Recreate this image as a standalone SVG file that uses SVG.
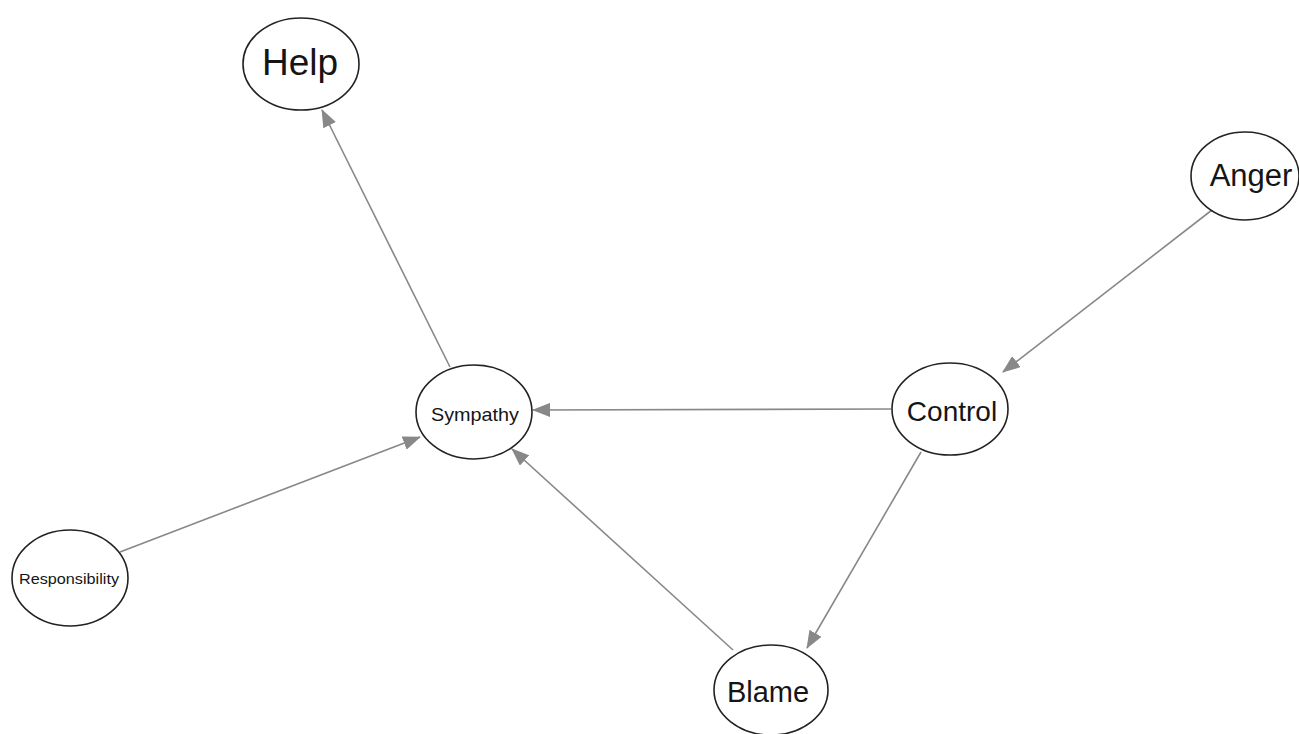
<svg xmlns="http://www.w3.org/2000/svg" width="1299" height="734" viewBox="0 0 1299 734">
<style>
.node ellipse{fill:#fff;stroke:#222;stroke-width:1.6}
.node text{font-family:"Liberation Sans",Arial,sans-serif;fill:#151515;text-anchor:middle}
.edge{stroke:#888;stroke-width:1.6;fill:none;marker-end:url(#arr)}
</style>
<defs>
<marker id="arr" markerUnits="userSpaceOnUse" markerWidth="18" markerHeight="14" refX="17" refY="7" orient="auto">
<path d="M0,0 L18,7 L0,14 Z" fill="#888"/>
</marker>
</defs>
<rect width="1299" height="734" fill="#fff"/>
<g id="connectors">
<line class="edge" x1="450" y1="367" x2="322" y2="110"/>
<line class="edge" x1="1212" y1="210" x2="1003" y2="372"/>
<line class="edge" x1="891" y1="409" x2="533" y2="410"/>
<line class="edge" x1="921" y1="452" x2="807" y2="648"/>
<line class="edge" x1="733" y1="650" x2="512" y2="449"/>
<line class="edge" x1="120" y1="552" x2="420" y2="437"/>
</g>
<g id="help" class="node"><ellipse cx="301" cy="64" rx="58" ry="46"/><text x="300" y="75" font-size="37">Help</text></g>
<g id="anger" class="node"><ellipse cx="1245" cy="176" rx="54" ry="44"/><text x="1251" y="186" font-size="31">Anger</text></g>
<g id="sympathy" class="node"><ellipse cx="474" cy="412" rx="58" ry="47"/><text x="475" y="421" font-size="19" textLength="88" lengthAdjust="spacingAndGlyphs">Sympathy</text></g>
<g id="control" class="node"><ellipse cx="950" cy="409" rx="58" ry="46"/><text x="952" y="421" font-size="28">Control</text></g>
<g id="responsibility" class="node"><ellipse cx="70" cy="578" rx="58" ry="48"/><text x="69" y="584" font-size="15" textLength="100" lengthAdjust="spacingAndGlyphs">Responsibility</text></g>
<g id="blame" class="node"><ellipse cx="771" cy="690" rx="57" ry="45"/><text x="768" y="702" font-size="29">Blame</text></g>
</svg>
